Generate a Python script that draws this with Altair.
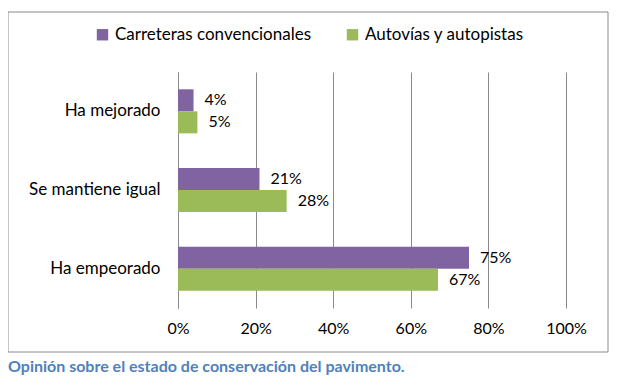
import altair as alt
import pandas as pd

categories = ["Ha mejorado", "Se mantiene igual", "Ha empeorado"]
series = ["Carreteras convencionales", "Autovías y autopistas"]
conv = [4, 21, 75]
auto = [5, 28, 67]
colors = ["#8064A2", "#9BBB59"]
x_ticks = [0, 20, 40, 60, 80, 100]
caption = "Opinión sobre el estado de conservación del pavimento."

rows = []
for c, a, b in zip(categories, conv, auto):
    rows.append({"cat": c, "serie": series[0], "value": a})
    rows.append({"cat": c, "serie": series[1], "value": b})
df = pd.DataFrame(rows)

FONT = "Lato"
W, H = 388, 236
GRID = "#8a8a8a"

y = alt.Y("cat:N", sort=categories, title=None,
          scale=alt.Scale(paddingInner=0.44, paddingOuter=0.22),
          axis=alt.Axis(labelFont=FONT, labelFontSize=17, labelColor="#000",
                        labelPadding=18, ticks=False, domainColor=GRID, grid=False))
yo = alt.YOffset("serie:N", sort=series, scale=alt.Scale(paddingInner=0, paddingOuter=0))
x = alt.X("value:Q", scale=alt.Scale(domain=[0, 100], nice=False), title=None,
          axis=alt.Axis(values=x_ticks, labelExpr="datum.value + '%'", labelFont=FONT,
                        labelFontSize=16, labelColor="#000", labelPadding=12, ticks=False,
                        labelFlush=False, domain=False, gridColor=GRID, gridOpacity=1))

bars = alt.Chart(df).mark_bar().encode(
    x=x, y=y, yOffset=yo,
    color=alt.Color("serie:N", sort=series,
                    scale=alt.Scale(domain=series, range=colors),
                    legend=alt.Legend(title=None, orient="none", legendX=-84, legendY=-46,
                                      direction="horizontal", symbolType="square",
                                      symbolSize=130, labelFont=FONT, labelFontSize=17,
                                      labelLimit=0, columnPadding=32, labelColor="#000",
                                      symbolStrokeWidth=0)),
)

labels = alt.Chart(df).transform_calculate(lbl="datum.value + '%'").mark_text(
    align="left", baseline="middle", dx=11, font=FONT, fontSize=16, color="#000"
).encode(x=x, y=y, yOffset=yo, text="lbl:N")

one = pd.DataFrame({"a": [0]})
border = alt.Chart(one).mark_rect(fill="transparent", stroke=GRID, strokeWidth=1).encode(
    x=alt.value(-170), x2=alt.value(430), y=alt.value(-60), y2=alt.value(280))

cap = alt.Chart(one).mark_text(align="left", baseline="middle", font=FONT, fontSize=16,
                               fontWeight="bold", color="#4F81BD").encode(
    x=alt.value(-170), y=alt.value(295), text=alt.value(caption))

chart = alt.layer(border, bars, labels, cap).properties(
    width=W, height=H, autosize="none",
    padding={"left": 170, "top": 64, "right": 59, "bottom": 71},
).configure_view(stroke="transparent")

chart.save("out.html", embed_options={"renderer": "svg", "actions": False})
